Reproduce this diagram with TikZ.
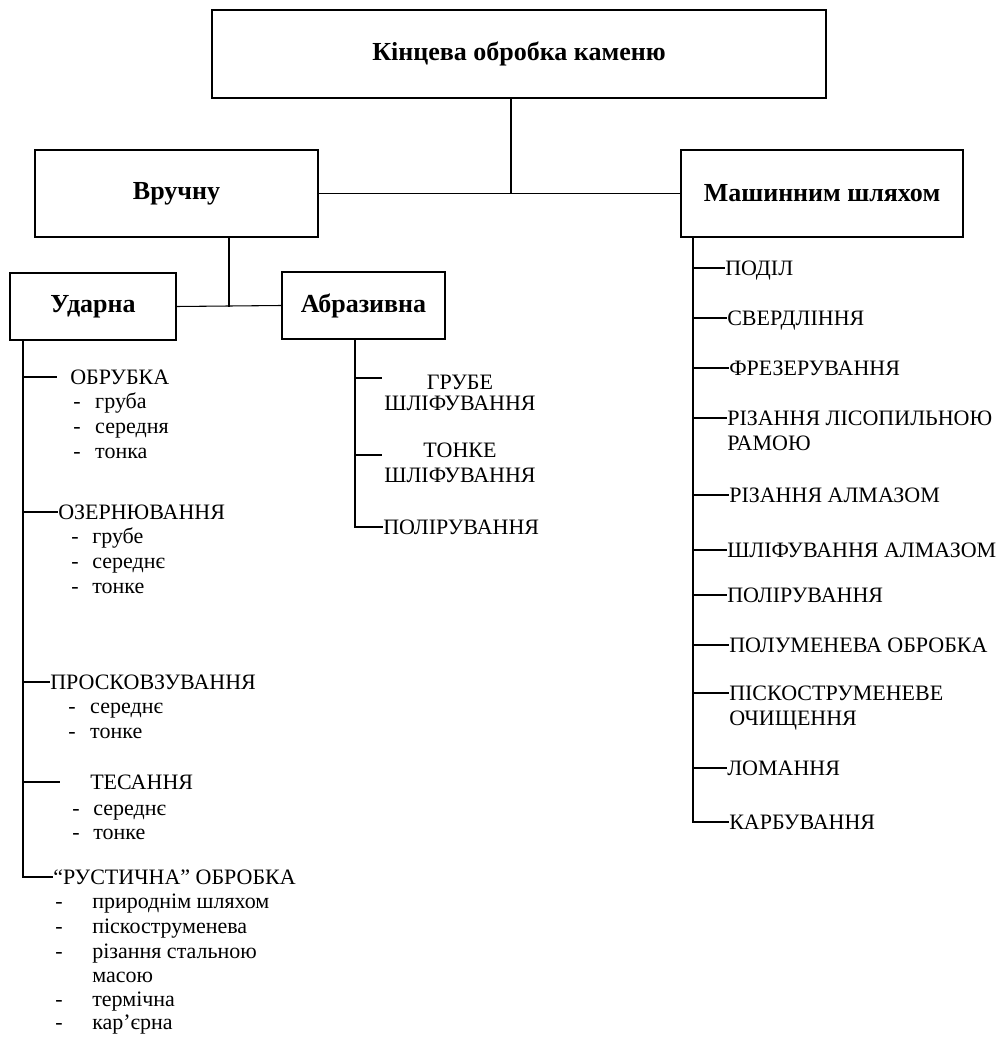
\documentclass[tikz,border=0pt]{standalone}
\usepackage{fontspec}
\setmainfont{Liberation Serif}
\newcommand\lstdash[2]{\makebox[#1][l]{-}#2}
\begin{document}
\begin{tikzpicture}[x=0.75pt,y=-0.75pt,
  hbox/.style={draw, line width=0.9pt, inner sep=0pt, font=\bfseries\fontsize{19.5}{22}\selectfont},
  item/.style={anchor=west, inner sep=0pt, text height=11pt, text depth=0pt, font=\fontsize{16.5}{18}\selectfont},
  litem/.style={item, text height=7.5pt},
  citem/.style={anchor=center, inner sep=0pt, text height=11pt, text depth=0pt, font=\fontsize{16.5}{18}\selectfont},
  ln/.style={line width=0.8pt}]
\useasboundingbox (0,0) rectangle (1001,1037);
% header boxes
\node[hbox, minimum width=460.5pt, minimum height=66pt] (top) at (519,54) {Кінцева обробка каменю};
\node[hbox, minimum width=212.25pt, minimum height=65.25pt] (vr) at (176.5,193.5) {Вручну};
\node[hbox, minimum width=211.5pt, minimum height=65.25pt] (ma) at (822,193.5) {Машинним шляхом};
\node[hbox, minimum width=124.5pt, minimum height=50.25pt] (ud) at (93,306.5) {Ударна};
\node[hbox, minimum width=122.25pt, minimum height=50.25pt] (ab) at (363.5,305.5) {Абразивна};
% stem coordinates
\coordinate (tS) at (511,98);
\coordinate (vS) at (229,237);
\coordinate (sL) at (23,340);
\coordinate (sA) at (355,339);
\coordinate (sR) at (693,237);
% top connectors
\draw[ln] (tS) -- (tS |- vr.east);
\draw[ln] (vr.east) -- (ma.west);
\draw[ln] (vS) -- (vS |- ud.east);
\draw[ln] (ud.east) -- (ab.west);
% left list (Ударна)
\node[item, inner xsep=9.75pt] (obr) at (57,377) {ОБРУБКА};
\node[litem] (l1a) at (73,403) {\lstdash{16.5pt}{груба}};
\node[litem] (l1b) at (73,428) {\lstdash{16.5pt}{середня}};
\node[litem] (l1c) at (73,453) {\lstdash{16.5pt}{тонка}};
\node[item] (oz) at (58,512) {ОЗЕРНЮВАННЯ};
\node[litem] (l2a) at (71,538) {\lstdash{15.75pt}{грубе}};
\node[litem] (l2b) at (71,563) {\lstdash{15.75pt}{середнє}};
\node[litem] (l2c) at (71,588) {\lstdash{15.75pt}{тонке}};
\node[item] (pr) at (50,682) {ПРОСКОВЗУВАННЯ};
\node[litem] (l3a) at (68,708) {\lstdash{16.5pt}{середнє}};
\node[litem] (l3b) at (68,733) {\lstdash{16.5pt}{тонке}};
\node[item, inner xsep=22.5pt] (tes) at (60,782) {ТЕСАННЯ};
\node[litem] (l4a) at (72,810) {\lstdash{15.75pt}{середнє}};
\node[litem] (l4b) at (72,834) {\lstdash{15.75pt}{тонке}};
\node[item] (rus) at (53,877) {“РУСТИЧНА” ОБРОБКА};
\node[litem] (l5a) at (55,903) {\lstdash{27.75pt}{природнім шляхом}};
\node[litem] (l5b) at (55,928) {\lstdash{27.75pt}{піскоструменева}};
\node[litem] (l5c) at (55,953) {\lstdash{27.75pt}{різання стальною}};
\node[litem] (l5d) at (92,977) {масою};
\node[litem] (l5e) at (55,1001) {\lstdash{27.75pt}{термічна}};
\node[litem] (l5f) at (55,1024) {\lstdash{27.75pt}{кар’єрна}};
\draw[ln] (sL) |- (rus.west);
\draw[ln] (obr.west -| sL) -- (obr.west);
\draw[ln] (oz.west -| sL) -- (oz.west);
\draw[ln] (pr.west -| sL) -- (pr.west);
\draw[ln] (tes.west -| sL) -- (tes.west);
% abrasive list
\node[citem] (a1) at (460,382) {ГРУБЕ};
\node[citem] (a1b) at (460,403) {ШЛІФУВАННЯ};
\node[citem] (a2) at (460,450) {ТОНКЕ};
\node[citem] (a2b) at (460,475) {ШЛІФУВАННЯ};
\node[item] (a3) at (383,527) {ПОЛІРУВАННЯ};
\coordinate (a1e) at (382,378);
\coordinate (a2e) at (382,455);
\draw[ln] (sA) |- (a3.west);
\draw[ln] (a1e -| sA) -- (a1e);
\draw[ln] (a2e -| sA) -- (a2e);
% machine list
\node[item] (r1) at (725,268) {ПОДІЛ};
\node[item] (r2) at (727,318) {СВЕРДЛІННЯ};
\node[item] (r3) at (729,368) {ФРЕЗЕРУВАННЯ};
\node[item] (r4) at (727,418) {РІЗАННЯ ЛІСОПИЛЬНОЮ};
\node[item] (r4b) at (727,443) {РАМОЮ};
\node[item] (r5) at (729,495) {РІЗАННЯ АЛМАЗОМ};
\node[item] (r6) at (727,550) {ШЛІФУВАННЯ АЛМАЗОМ};
\node[item] (r7) at (727,595) {ПОЛІРУВАННЯ};
\node[item] (r8) at (729,645) {ПОЛУМЕНЕВА ОБРОБКА};
\node[item] (r9) at (729,693) {ПІСКОСТРУМЕНЕВЕ};
\node[item] (r9b) at (729,718) {ОЧИЩЕННЯ};
\node[item] (r10) at (727,768) {ЛОМАННЯ};
\node[item] (r11) at (729,822) {КАРБУВАННЯ};
\draw[ln] (sR) |- (r11.west);
\foreach \n in {r1,r2,r3,r4,r5,r6,r7,r8,r9,r10}
  \draw[ln] (\n.west -| sR) -- (\n.west);
\end{tikzpicture}
\end{document}
